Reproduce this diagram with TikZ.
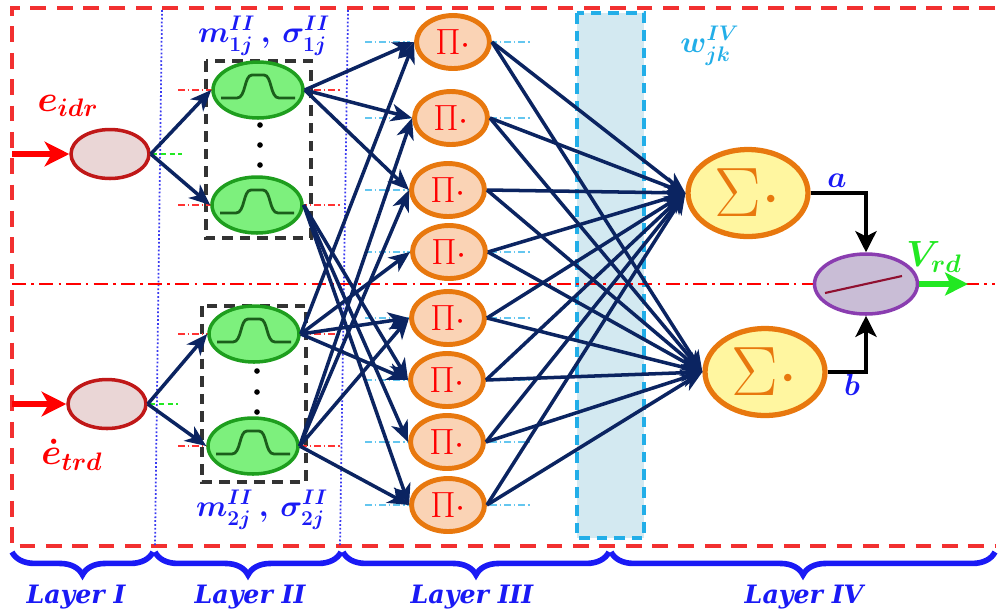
\documentclass[tikz,border=0pt]{standalone}
\usepackage{fontspec}
\newfontfamily\labfont{DejaVu Serif}
\usetikzlibrary{arrows.meta,shapes.geometric,decorations.pathreplacing,calc}

\definecolor{navy}{HTML}{0B2461}
\definecolor{framered}{HTML}{F23030}
\definecolor{inred}{HTML}{C01818}
\definecolor{inpink}{HTML}{EAD6D6}
\definecolor{mfgreen}{HTML}{7DF07D}
\definecolor{mfborder}{HTML}{1E9E1E}
\definecolor{bellgreen}{HTML}{1B5E1B}
\definecolor{orangeb}{HTML}{E8780E}
\definecolor{peach}{HTML}{FAD3B5}
\definecolor{sumyellow}{HTML}{FFF6A0}
\definecolor{outpurple}{HTML}{8A3DB0}
\definecolor{outfill}{HTML}{C9BDD6}
\definecolor{outline}{HTML}{901030}
\definecolor{labblue}{HTML}{1A1AF5}
\definecolor{wcyan}{HTML}{22AEE8}
\definecolor{wfill}{HTML}{D3E9F1}
\definecolor{vgreen}{HTML}{22E822}
\definecolor{dotblue}{HTML}{3A3AF0}

\begin{document}
\begin{tikzpicture}[x=0.02cm,y=-0.02cm,
  inputnode/.style={ellipse,draw=inred,fill=inpink,line width=2pt,
    minimum width=1.56cm,minimum height=0.98cm,inner sep=0pt},
  mfnode/.style={ellipse,draw=mfborder,fill=mfgreen,line width=2pt,
    minimum width=1.8cm,minimum height=1.12cm,inner sep=0pt},
  prodnode/.style={ellipse,draw=orangeb,fill=peach,line width=2.8pt,
    minimum width=1.46cm,minimum height=1.06cm,inner sep=0pt,text=red,
    font=\huge},
  sumnode/.style={ellipse,draw=orangeb,fill=sumyellow,line width=3pt,
    minimum width=2.4cm,minimum height=1.74cm,inner sep=0pt,text=orangeb,
    font=\Huge},
  outnode/.style={ellipse,draw=outpurple,fill=outfill,line width=2pt,
    minimum width=2.06cm,minimum height=1.2cm,inner sep=0pt},
  link/.style={navy,line width=2pt,
    -{Stealth[length=12pt,width=10pt,inset=3.5pt]}},
  inarrow/.style={red,line width=3.4pt,
    -{Stealth[length=14pt,width=14pt,inset=4pt]}},
  outarrow/.style={black,line width=2.2pt,
    -{Stealth[length=12pt,width=12pt,inset=3pt]}},
  vrdarrow/.style={vgreen,line width=3.4pt,
    -{Stealth[length=13pt,width=13pt,inset=3pt]}},
  mfbox/.style={draw=black!80,line width=2.2pt,dash pattern=on 6pt off 4pt},
  wbox/.style={draw=wcyan,fill=wfill,line width=2.2pt,dash pattern=on 6pt off 4pt},
  layerline/.style={dotblue,line width=1pt,dash pattern=on 1pt off 1.2pt},
  frame/.style={framered,line width=2pt,dash pattern=on 9pt off 6pt},
  midline/.style={red,line width=1.2pt,dash pattern=on 8pt off 3pt on 1.5pt off 3pt},
  brace/.style={labblue,line width=3.2pt,
    decorate,decoration={brace,mirror,amplitude=13pt}},
  layerlab/.style={text=labblue,font=\labfont\bfseries\itshape\Large},
  mathlab/.style={font=\boldmath\LARGE},
  redmark/.style={red!80,line width=0.6pt,dash pattern=on 4pt off 1.5pt on 1pt off 1.5pt},
  cyanmark/.style={wcyan!70,line width=0.6pt,dash pattern=on 4pt off 1.5pt on 1pt off 1.5pt},
  greenmark/.style={vgreen,line width=0.8pt,dash pattern=on 3pt off 2pt},
  bellline/.style={bellgreen,line width=1.6pt},
  bell/.pic={\draw[bellline] (-37,8) -- (-21,8)
      .. controls (-12,8) and (-14,-15) .. (-6,-15) -- (6,-15)
      .. controls (14,-15) and (12,8) .. (21,8) -- (37,8);}
]
\useasboundingbox (0,0) rectangle (1000,610);

% outer frame, layer separators and the weight band
\draw[frame] (995,8) -- (12,8) -- (12,546) -- (995,546);
\draw[layerline] (162,10) -- (155,546);
\draw[layerline] (348,10) -- (340,546);
\draw[wbox] (577,13) rectangle (644,538);
\draw[midline] (12,284) -- (995,284);

% layer I: inputs
\node[inputnode] (x1) at (110,154) {};
\node[inputnode] (x2) at (107,404) {};
\coordinate (c1) at (12,154);
\coordinate (c2) at (12,404);
\draw[inarrow] (c1) -- (x1.west);
\draw[inarrow] (c2) -- (x2.west);
\node[text=red,font=\boldmath\huge] (lx1) at (68,106) {$e_{idr}$};
\node[text=red,font=\boldmath\huge] (lx2) at (72,455) {$\dot{e}_{trd}$};
\draw[greenmark] (152,154) -- (182,154);
\draw[greenmark] (150,404) -- (178,404);

% layer II: membership functions
\draw[mfbox] (206,61) rectangle (311,238);
\draw[mfbox] (202,306) rectangle (306,482);
\foreach \n/\yy in {g1/90,g2/205,g3/334,g4/446}{
  \draw[redmark] (178,\yy) -- (212,\yy);
  \draw[redmark] (300,\yy) -- (342,\yy);
}
\node[mfnode] (g1) at (258,90) {};
\node[mfnode] (g2) at (257,205) {};
\node[mfnode] (g3) at (254,334) {};
\node[mfnode] (g4) at (253,446) {};
\foreach \n in {g1,g2,g3,g4} \pic at (\n) {bell};
\foreach \yy in {125,145,165} \fill (260,\yy) circle (1.6pt);
\foreach \yy in {371,392,412} \fill (257,\yy) circle (1.6pt);
\node[text=labblue,mathlab] (lm1) at (264,36) {$m^{II}_{1j}\,,\,\sigma^{II}_{1j}$};
\node[text=labblue,mathlab] (lm2) at (262,510) {$m^{II}_{2j}\,,\,\sigma^{II}_{2j}$};

\draw[link] (x1.east) -- (g1.west);
\draw[link] (x1.east) -- (g2.west);
\draw[link] (x2.east) -- (g3.west);
\draw[link] (x2.east) -- (g4.west);

% layer III: rule nodes
\foreach \i/\xx/\yy in {1/453/42,2/451/118,3/448/190,4/449/252,
                        5/448/318,6/447/380,7/447/442,8/448/505}{
  \draw[cyanmark] (365,\yy) -- (410,\yy);
  \draw[cyanmark] (490,\yy) -- (530,\yy);
  \node[prodnode] (p\i) at (\xx,\yy) {$\Pi\cdot$};
}

\foreach \g/\p in {g1/p1,g1/p2,g1/p3,
                   g2/p6,g2/p7,g2/p8,
                   g3/p1,g3/p4,g3/p5,g3/p6,
                   g4/p2,g4/p3,g4/p5,g4/p8}
  \draw[link] (\g.east) -- (\p.west);

% layer IV: weighted sums and output
\node[sumnode] (s1) at (748,193) {\scalebox{1.6}{$\Sigma\cdot$}};
\node[sumnode] (s2) at (765,372) {\scalebox{1.6}{$\Sigma\cdot$}};
\foreach \i in {1,...,8}{
  \draw[link] (p\i.east) -- (s1.west);
  \draw[link] (p\i.east) -- (s2.west);
}
\node[text=wcyan,mathlab] (lw) at (710,46) {$w^{IV}_{jk}$};

\node[outnode] (out) at (866,284) {};
\draw[outline,line width=1.2pt] ($(out.center)+(-41,9)$) -- ($(out.center)+(36,-8)$);
\draw[outarrow] (s1.east) -| (out.north);
\draw[outarrow] (s2.east) -| (out.south);
\node[text=labblue,mathlab] (la) at (837,181) {$a$};
\node[text=labblue,mathlab] (lb) at (852,385) {$b$};
\coordinate (vend) at (968,284);
\draw[vrdarrow] (out.east) -- (vend);
\node[text=vgreen,font=\boldmath\huge] (lv) at (934,257) {$V_{rd}$};

% layer braces
\draw[brace] (12,552) -- (153,552);
\draw[brace] (155,552) -- (341,552);
\draw[brace] (343,552) -- (609,552);
\draw[brace] (611,552) -- (995,552);
\node[layerlab] (l1) at (76,597) {Layer I};
\node[layerlab] (l2) at (250,597) {Layer II};
\node[layerlab] (l3) at (472,597) {Layer III};
\node[layerlab] (l4) at (804,597) {Layer IV};
\end{tikzpicture}
\end{document}
